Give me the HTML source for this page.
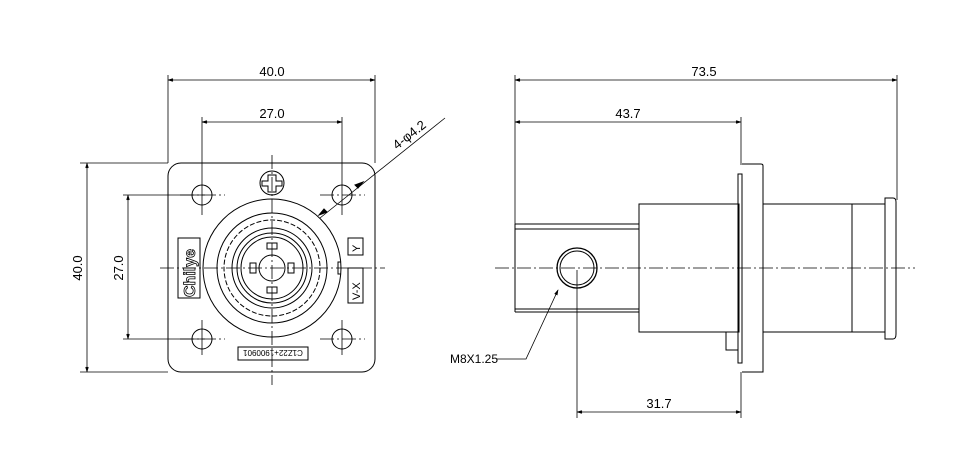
<!DOCTYPE html>
<html><head><style>html,body{margin:0;padding:0;background:#fff}svg{display:block}</style></head><body>
<svg width="974" height="475" viewBox="0 0 974 475" xmlns="http://www.w3.org/2000/svg" font-family="Liberation Sans, sans-serif" fill="none" stroke="#000" stroke-width="1">
<defs><marker id="a" viewBox="0 0 10 10" refX="10" refY="5" markerWidth="10" markerHeight="6" orient="auto-start-reverse"><path d="M0,2 L10,5 L0,8z" fill="#000"/></marker></defs>
<g stroke-dasharray="14,3,2,3" stroke-width="0.8">
<line x1="160" y1="268" x2="385" y2="268"/><line x1="272" y1="155" x2="272" y2="385"/>
<line x1="495" y1="268" x2="915" y2="268"/>
<line x1="180" y1="195" x2="225" y2="195"/><line x1="320" y1="195" x2="365" y2="195"/>
<line x1="180" y1="339" x2="225" y2="339"/><line x1="320" y1="339" x2="365" y2="339"/>
</g>
<!-- left view -->
<rect x="168" y="163" width="207" height="209" rx="13"/>
<g stroke-width="0.8">
<line x1="168" y1="75" x2="168" y2="163"/><line x1="375" y1="75" x2="375" y2="163"/>
<line x1="202" y1="117" x2="202" y2="215"/><line x1="342" y1="117" x2="342" y2="215"/>
<line x1="80" y1="163" x2="168" y2="163"/><line x1="80" y1="372" x2="168" y2="372"/>
<line x1="123" y1="195" x2="205" y2="195"/><line x1="123" y1="339" x2="205" y2="339"/>
<line x1="202" y1="320" x2="202" y2="355"/><line x1="342" y1="320" x2="342" y2="355"/>
<line x1="168" y1="80" x2="375" y2="80" marker-start="url(#a)" marker-end="url(#a)"/>
<line x1="202" y1="122" x2="342" y2="122" marker-start="url(#a)" marker-end="url(#a)"/>
<line x1="87" y1="163" x2="87" y2="372" marker-start="url(#a)" marker-end="url(#a)"/>
<line x1="128" y1="195" x2="128" y2="339" marker-start="url(#a)" marker-end="url(#a)"/>
<line x1="320" y1="218" x2="445" y2="118"/>
</g>
<circle cx="202" cy="195" r="10"/><circle cx="342" cy="195" r="10"/>
<circle cx="202" cy="339" r="10"/><circle cx="342" cy="339" r="10"/>
<path d="M327,212 l-8,3 l5,-6z M355,185 l8,-3 l-5,6z" fill="#000"/>
<circle cx="272" cy="183" r="12"/>
<path d="M268,175h8v6h6v5h-6v6h-8v-6h-6v-5h6z"/>
<circle cx="272" cy="268" r="69"/>
<path d="M341,262 h-3 v12 h3" />
<circle cx="272" cy="268" r="55"/>
<circle cx="272" cy="268" r="48" stroke-dasharray="5,2"/>
<circle cx="272" cy="268" r="40"/><circle cx="272" cy="268" r="35"/><circle cx="272" cy="268" r="31"/>
<circle cx="272" cy="268" r="13"/>
<rect x="267" y="243" width="10" height="6"/><rect x="267" y="287" width="10" height="6"/>
<rect x="250" y="263" width="6" height="10"/><rect x="288" y="263" width="6" height="10"/>
<rect x="178" y="238" width="22" height="60"/>
<text x="0" y="0" transform="translate(195,297) rotate(-90)" font-size="16" font-weight="bold" fill="none" stroke="#000" stroke-width="0.8">Chilye</text>
<rect x="348" y="238" width="15" height="17"/>
<text x="0" y="0" transform="translate(360,252) rotate(-90)" font-size="11" fill="#000" stroke="none">Y</text>
<rect x="348" y="268" width="15" height="35"/>
<text x="0" y="0" transform="translate(360,300) rotate(-90)" font-size="11" fill="#000" stroke="none">V-X</text>
<rect x="238" y="347" width="70" height="13"/>
<text x="273" y="357" font-size="8" text-anchor="middle" fill="#000" stroke="none" transform="rotate(180 273 353.5)">C1Z22+1900901</text>
<g fill="#000" stroke="none" font-size="13">
<text x="272" y="76" text-anchor="middle">40.0</text>
<text x="272" y="118" text-anchor="middle">27.0</text>
<text transform="translate(82,268) rotate(-90)" text-anchor="middle">40.0</text>
<text transform="translate(123,268) rotate(-90)" text-anchor="middle">27.0</text>
<text transform="translate(397,150) rotate(-38)">4-φ4.2</text>
<text x="704" y="76" text-anchor="middle">73.5</text>
<text x="628" y="118" text-anchor="middle">43.7</text>
<text x="659" y="408" text-anchor="middle">31.7</text>
<text x="450" y="363" font-size="12">M8X1.25</text>
</g>
<!-- right view -->
<g stroke-width="0.8">
<line x1="515" y1="75" x2="515" y2="224"/><line x1="897" y1="75" x2="897" y2="200"/>
<line x1="741" y1="117" x2="741" y2="165"/><line x1="741" y1="372" x2="741" y2="418"/>
<line x1="577" y1="270" x2="577" y2="418"/>
<line x1="515" y1="80" x2="897" y2="80" marker-start="url(#a)" marker-end="url(#a)"/>
<line x1="515" y1="122" x2="741" y2="122" marker-start="url(#a)" marker-end="url(#a)"/>
<line x1="577" y1="412" x2="741" y2="412" marker-start="url(#a)" marker-end="url(#a)"/>
<polyline points="497,359 526,359 558,290" marker-end="url(#a)"/>
</g>
<path d="M515,224 H639 M515,229 H639 M515,309 H639 M515,312 H639 M515,224 V312"/>
<rect x="639" y="204" width="100" height="128"/>
<rect x="738" y="174" width="4" height="189"/>
<path d="M742,164 H761 Q763,164 763,166 V372 H742"/>
<rect x="763" y="204" width="89" height="128"/>
<rect x="852" y="204" width="33" height="128"/>
<path d="M885,198 H893 Q896,198 896,202 V334 Q896,339 893,339 H885z"/>
<path d="M738,332 H726 V350 H738"/>
<circle cx="577" cy="268" r="20" stroke-width="1.3"/><circle cx="577" cy="268" r="17"/>
</svg>
</body></html>
